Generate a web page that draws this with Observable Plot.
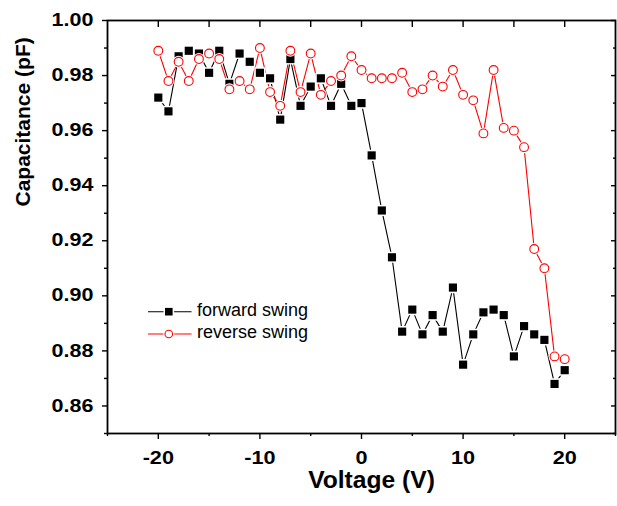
<!DOCTYPE html>
<html><head><meta charset="utf-8">
<script src="https://cdn.jsdelivr.net/npm/d3@7"></script>
<script src="https://cdn.jsdelivr.net/npm/@observablehq/plot@0.6"></script>
<style>
body{margin:0;background:#fff;}
#wrap{position:relative;width:617px;height:506px;}
#legend{position:absolute;left:0;top:0;pointer-events:none;}
</style></head><body><div id="wrap"></div>
<script>
const voltage = [-20,-19,-18,-17,-16,-15,-14,-13,-12,-11,-10,-9,-8,-7,-6,-5,-4,-3,-2,-1,0,1,2,3,4,5,6,7,8,9,10,11,12,13,14,15,16,17,18,19,20];
const forward = [0.972,0.967,0.987,0.989,0.988,0.981,0.989,0.977,0.988,0.985,0.981,0.979,0.964,0.986,0.969,0.976,0.979,0.969,0.977,0.969,0.970,0.951,0.931,0.914,0.887,0.895,0.886,0.893,0.887,0.903,0.875,0.886,0.894,0.895,0.893,0.878,0.889,0.886,0.884,0.868,0.873];
const reverse = [0.989,0.978,0.985,0.978,0.986,0.988,0.986,0.975,0.978,0.975,0.990,0.974,0.969,0.989,0.974,0.988,0.973,0.978,0.980,0.987,0.982,0.979,0.979,0.979,0.981,0.974,0.975,0.980,0.976,0.982,0.973,0.971,0.959,0.982,0.961,0.960,0.954,0.917,0.910,0.878,0.877];
const seriesNames = ["forward swing", "reverse swing"];
const xMajor = [-20, -10, 0, 10, 20];
const xMinor = [-25, -15, -5, 5, 15, 25];
const xTop = [-20, -15, -10, -5, 0, 5, 10, 15, 20];
const yMajor = [0.86, 0.88, 0.90, 0.92, 0.94, 0.96, 0.98, 1.00];
const yMinor = [0.85, 0.87, 0.89, 0.91, 0.93, 0.95, 0.97, 0.99];
const xLabel = "Voltage (V)";
const yLabel = "Capacitance (pF)";

const fwd = voltage.map((v, i) => ({v, c: forward[i]}));
const rev = voltage.map((v, i) => ({v, c: reverse[i]}));

const font = "'Liberation Sans', Arial, sans-serif";

const chart = Plot.plot({
  width: 617,
  height: 506,
  marginLeft: 107,
  marginRight: 2,
  marginTop: 20,
  marginBottom: 73,
  style: {fontFamily: font, fontSize: "17px", fontWeight: "bold", background: "white", color: "black"},
  x: {domain: [-25, 25], label: null},
  y: {domain: [0.85, 1.00], label: null},
  marks: [
    Plot.frame({stroke: "black", strokeWidth: 1.8}),
    Plot.axisX(xMajor, {anchor: "bottom", tickSize: 6, tickPadding: 11, tickFormat: d => String(d), label: null, fontSize: 18.5, fontWeight: "bold", strokeWidth: 1.4}),
    Plot.axisX(xMinor, {anchor: "bottom", tickSize: 3, tickFormat: () => "", label: null, strokeWidth: 1.4}),
    Plot.axisX(xTop, {anchor: "top", tickSize: -6, tickFormat: () => "", label: null, strokeWidth: 1.4}),
    Plot.axisY(yMajor, {anchor: "left", tickSize: 5, tickPadding: 9, tickFormat: d => d.toFixed(2), label: null, fontSize: 17.5, fontWeight: "bold", strokeWidth: 1.4}),
    Plot.axisY(yMinor, {anchor: "left", tickSize: 3, tickFormat: () => "", label: null, strokeWidth: 1.4}),
    Plot.axisY(yMajor, {anchor: "right", tickSize: -5, tickFormat: () => "", label: null, strokeWidth: 1.4}),
    Plot.axisY(yMinor, {anchor: "right", tickSize: -3, tickFormat: () => "", label: null, strokeWidth: 1.4}),
    Plot.text([xLabel], {frameAnchor: "bottom", dy: 54, dx: 10, fontSize: 23, fontWeight: "bold", fill: "black"}),
    Plot.text([yLabel], {frameAnchor: "left", rotate: -90, dx: -84, dy: -20.5, fontSize: 21, fontWeight: "bold", fill: "black"}),
    Plot.line(fwd, {x: "v", y: "c", stroke: "black", strokeWidth: 1.1}),
    Plot.line(rev, {x: "v", y: "c", stroke: "#ff0000", strokeWidth: 1.1}),
    Plot.dot(fwd, {x: "v", y: "c", symbol: "square", r: 4.6, fill: "black", stroke: "white", strokeWidth: 3, paintOrder: "stroke"}),
    Plot.dot(rev, {x: "v", y: "c", r: 6, fill: "white", stroke: "none"}),
    Plot.dot(rev, {x: "v", y: "c", r: 4.4, fill: "white", stroke: "#ff0000", strokeWidth: 1.1})
  ]
});
const wrap = document.getElementById("wrap");
wrap.appendChild(chart);

// widen text horizontally, as in the reference rendering
function stretch(el, factor) {
  if (!el.textContent) return;
  const len = el.getComputedTextLength();
  if (len > 0) {
    el.setAttribute("textLength", (len * factor).toFixed(2));
    el.setAttribute("lengthAdjust", "spacingAndGlyphs");
  }
}
chart.querySelectorAll('g[aria-label="y-axis tick label"] text').forEach(t => stretch(t, 1.23));
chart.querySelectorAll('g[aria-label="x-axis tick label"] text').forEach(t => stretch(t, 1.17));
chart.querySelectorAll('text').forEach(t => { if (t.textContent === xLabel) stretch(t, 1.07); });

// legend
const ns = "http://www.w3.org/2000/svg";
const leg = document.createElementNS(ns, "svg");
leg.setAttribute("id", "legend");
leg.setAttribute("width", 617);
leg.setAttribute("height", 506);
const colors = ["black", "#ff0000"];
seriesNames.forEach((name, i) => {
  const y = 311.7 + i * 22.3;
  const g = document.createElementNS(ns, "g");
  g.innerHTML = `<line x1="148" x2="191.5" y1="${y}" y2="${y}" stroke="${colors[i]}" stroke-width="1.1"/>` +
    (i === 0
      ? `<rect x="165" y="${y - 3.8}" width="7.6" height="7.6" fill="black" stroke="white" stroke-width="3" paint-order="stroke"/>`
      : `<circle cx="168.8" cy="${y}" r="5.5" fill="white"/><circle cx="168.8" cy="${y}" r="3.8" fill="white" stroke="#ff0000" stroke-width="1.1"/>`) +
    `<text x="197" y="${y + 4.3}" font-family="${font}" font-size="18" fill="black">${name}</text>`;
  leg.appendChild(g);
  stretch(g.querySelector("text"), 1.09);
});
wrap.appendChild(leg);
</script></body></html>
